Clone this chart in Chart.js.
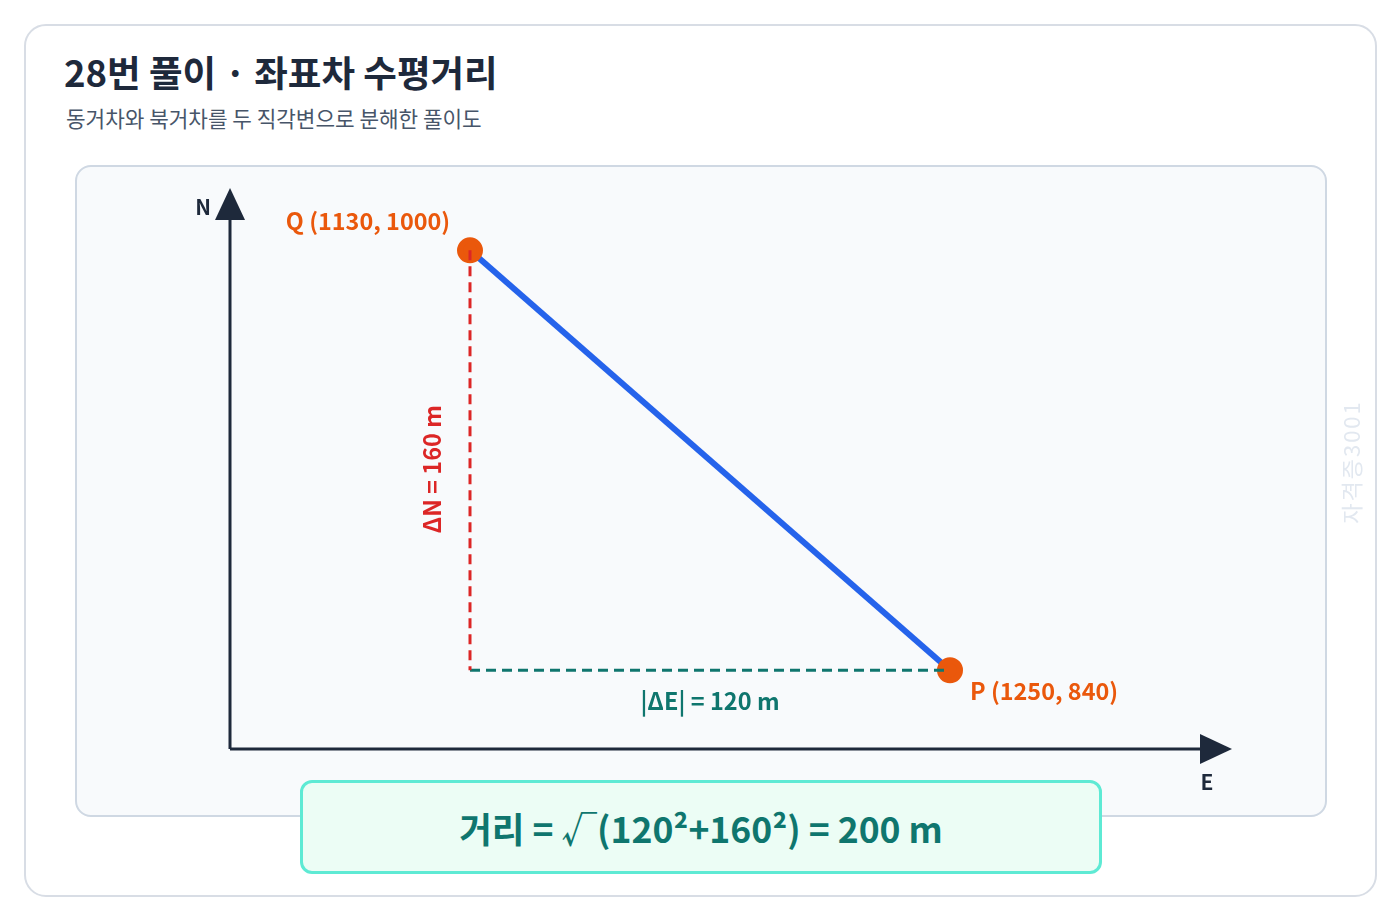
<!DOCTYPE html>
<html><head><meta charset="utf-8">
<script src="https://cdn.jsdelivr.net/npm/chart.js@4"></script>
<style>
  body { margin:0; background:#fff; font-family:"Noto Sans CJK KR","Noto Sans",sans-serif; }
  .card { position:absolute; left:24px; top:24px; width:1349px; height:869px; border:2px solid #d8dde5; border-radius:22px; background:#fff; }
  .title { position:absolute; left:64px; top:45px; font-size:36.5px; font-weight:700; color:#1e293b; }
  .sub { position:absolute; left:66px; top:102px; font-size:21.3px; color:#475569; }
  .panel { position:absolute; left:75px; top:165px; width:1248px; height:648px; border:2px solid #cfd8e3; border-radius:16px; background:#f8fafc; }
  canvas { position:absolute; left:0; top:0; }
  .formula { position:absolute; left:300px; top:780px; width:796px; height:88px; border:3px solid #5eead4; border-radius:12px; background:#ecfdf5;
    display:flex; align-items:center; justify-content:center; font-size:35.5px; font-weight:700; color:#0f766e; }
</style></head>
<body>
<div class="card"></div>
<div class="title">28번 풀이 · 좌표차 수평거리</div>
<div class="sub">동거차와 북거차를 두 직각변으로 분해한 풀이도</div>
<div class="panel"></div>
<canvas id="c" width="1400" height="920"></canvas>
<div class="formula">거리 = √(120²+160²) = 200 m</div>
<script>
const pointNames = ['Q', 'P'];
const eastings = [1130, 1250];
const northings = [1000, 840];
const deltaLabels = ['ΔN = 160 m', '|ΔE| = 120 m'];

const Q = { x: eastings[0], y: northings[0] };
const P = { x: eastings[1], y: northings[1] };
const corner = { x: eastings[0], y: northings[1] };

const overlay = {
  id: 'overlay',
  afterDatasetsDraw(chart) {
    const { ctx, scales: { x, y } } = chart;
    const ox = x.getPixelForValue(1070), oy = y.getPixelForValue(810);
    const ex = x.getPixelForValue(1320), ny = y.getPixelForValue(1023);
    ctx.save();
    ctx.strokeStyle = '#1e293b'; ctx.fillStyle = '#1e293b'; ctx.lineWidth = 3;
    ctx.beginPath(); ctx.moveTo(ox, oy); ctx.lineTo(ex - 20, oy); ctx.moveTo(ox, oy); ctx.lineTo(ox, ny + 20); ctx.stroke();
    ctx.beginPath(); ctx.moveTo(ex + 2, oy); ctx.lineTo(ex - 30, oy - 15); ctx.lineTo(ex - 30, oy + 15); ctx.fill();
    ctx.beginPath(); ctx.moveTo(ox, ny - 2); ctx.lineTo(ox - 15, ny + 30); ctx.lineTo(ox + 15, ny + 30); ctx.fill();
    ctx.font = 'bold 21px "Noto Sans CJK KR"'; ctx.textAlign = 'center'; ctx.textBaseline = 'middle';
    ctx.fillText('N', ox - 27, ny + 17);
    ctx.fillText('E', ex - 23, oy + 33);

    const qx = x.getPixelForValue(Q.x), qy = y.getPixelForValue(Q.y);
    const px = x.getPixelForValue(P.x), py = y.getPixelForValue(P.y);
    ctx.fillStyle = '#ea580c'; ctx.font = 'bold 23.4px "Noto Sans CJK KR"';
    ctx.fillText(`${pointNames[0]} (${Q.x}, ${Q.y})`, qx - 102, qy - 29);
    ctx.textAlign = 'left';
    ctx.fillText(`${pointNames[1]} (${P.x}, ${P.y})`, px + 20, py + 21);

    ctx.textAlign = 'center'; ctx.font = 'bold 23.5px "Noto Sans CJK KR"';
    ctx.fillStyle = '#0f766e';
    ctx.fillText(deltaLabels[1], (qx + px) / 2, py + 31);
    ctx.save(); ctx.translate(qx - 38, (qy + py) / 2 + 9); ctx.rotate(-Math.PI / 2);
    ctx.fillStyle = '#dc2626'; ctx.fillText(deltaLabels[0], 0, 0); ctx.restore();

    ctx.save(); ctx.translate(1352, 462); ctx.rotate(-Math.PI / 2);
    ctx.fillStyle = '#e2e8f0'; ctx.font = '22px "Noto Sans CJK KR"';
    ctx.letterSpacing = '2px';
    ctx.fillText('자격증3001', 0, 0); ctx.restore();
    ctx.restore();
  }
};

new Chart(document.getElementById('c'), {
  type: 'scatter',
  data: { datasets: [
    { data: [Q, corner], showLine: true, borderColor: '#dc2626', borderWidth: 3, borderDash: [10, 6], pointRadius: 0 },
    { data: [corner, P], showLine: true, borderColor: '#0f766e', borderWidth: 3, borderDash: [10, 6], pointRadius: 0 },
    { data: [Q, P], showLine: true, borderColor: '#2563eb', borderWidth: 6, pointRadius: 10,
      pointBackgroundColor: '#ea580c', pointBorderColor: '#ea580c' }
  ]},
  options: {
    responsive: false, animation: false, devicePixelRatio: 1,
    layout: { padding: { left: 230, top: 190, right: 170, bottom: 171 } },
    plugins: { legend: { display: false }, tooltip: { enabled: false } },
    scales: {
      x: { type: 'linear', min: 1070, max: 1320, display: false },
      y: { type: 'linear', min: 810, max: 1023, display: false }
    }
  },
  plugins: [overlay]
});
</script>
</body></html>
